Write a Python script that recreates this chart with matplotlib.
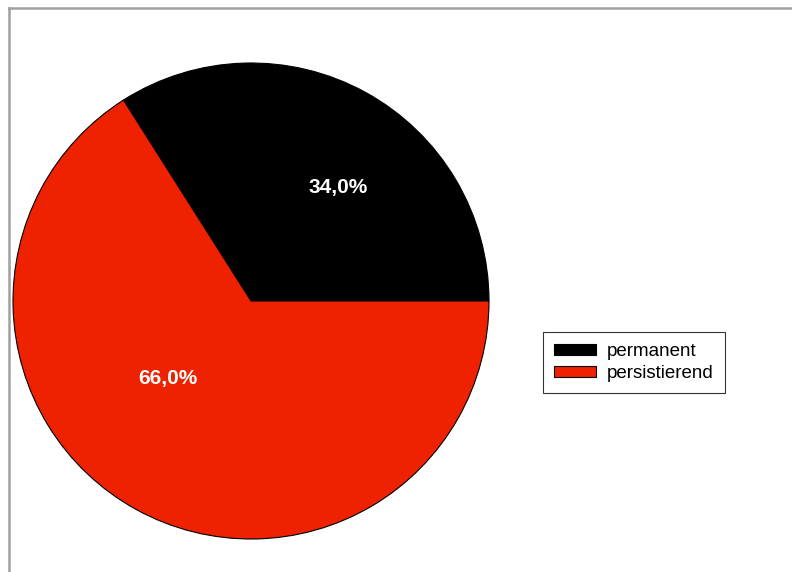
import matplotlib
matplotlib.use("Agg")
import matplotlib.pyplot as plt
from matplotlib.lines import Line2D

plt.rcParams["font.family"] = ["Liberation Sans", "DejaVu Sans"]

categories = ["permanent", "persistierend"]
shares = [34.0, 66.0]
colors = ["#000000", "#EE2200"]

fig = plt.figure(figsize=(7.92, 5.72), dpi=100)
W, H = 792, 572

# grey frame along the top and left
fig.add_artist(Line2D([8.5 / W, 8.5 / W], [0, 1 - 7.5 / H], color="#a0a0a0", lw=1.8,
                      transform=fig.transFigure))
fig.add_artist(Line2D([8.5 / W, 1], [1 - 7.5 / H, 1 - 7.5 / H], color="#a0a0a0", lw=1.8,
                      transform=fig.transFigure))

cx, cy, r = 251, 301, 238
ax = fig.add_axes([(cx - r) / W, 1 - (cy + r) / H, 2 * r / W, 2 * r / H])
wedges, _, autotexts = ax.pie(
    shares, colors=colors, startangle=0, counterclock=True,
    autopct=lambda p: f"{p:.1f}%".replace(".", ","),
    wedgeprops=dict(edgecolor="black", linewidth=0.8),
    textprops=dict(color="white", fontsize=15, fontweight="bold"),
)
ax.set_xlim(-1, 1)
ax.set_ylim(-1, 1)
ax.set_aspect("equal")

# label anchors inside each slice
label_pos = [(0.366, 0.475), (-0.349, -0.324)]
for t, (x, y) in zip(autotexts, label_pos):
    t.set_position((x, y))
    t.set_ha("center")
    t.set_va("center")

leg = fig.legend(wedges, categories, loc="center left",
                 bbox_to_anchor=(543 / W, 1 - 362.5 / H),
                 fontsize=13.5, frameon=True, fancybox=False, shadow=False,
                 handlelength=2.2, handleheight=0.5, handletextpad=0.6,
                 labelspacing=0.28, borderpad=0.6, borderaxespad=0)
leg.get_frame().set_edgecolor("black")
leg.get_frame().set_linewidth(0.8)

fig.savefig("out.png", dpi=100)
